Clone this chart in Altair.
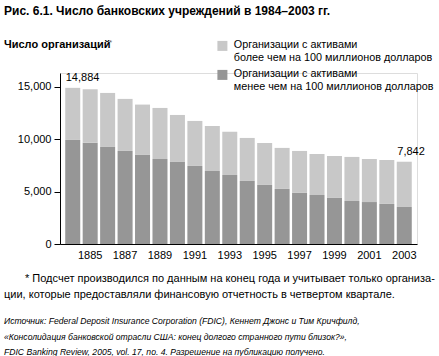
import altair as alt
import pandas as pd

# ---- data ----
years = list(range(1984, 2004))
totals = [14884, 14750, 14400, 13830, 13290, 12970, 12300, 11730, 11250, 10700,
          10110, 9630, 9160, 8870, 8580, 8390, 8300, 8100, 8010, 7842]
small = [9920, 9660, 9250, 8870, 8490, 8100, 7820, 7440, 6960, 6580,
         6010, 5630, 5250, 4870, 4670, 4390, 4100, 4000, 3820, 3530]
tick_years = [1985, 1987, 1989, 1991, 1993, 1995, 1997, 1999, 2001, 2003]
tick_labels = ["1885", "1887", "1889", "1991", "1993", "1995", "1997", "1999", "2001", "2003"]
cat_big = "Организации с активами\nболее чем на 100 миллионов долларов"
cat_small = "Организации с активами\nменее чем на 100 миллионов долларов"
labelled_years = [1984, 2003]

title_text = "Рис. 6.1. Число банковских учреждений в 1984–2003 гг."
ytitle_text = "Число организаций"
note_lines = ["* Подсчет производился по данным на конец года и учитывает только организа-",
              "ции, которые предоставляли финансовую отчетность в четвертом квартале."]
source_lines = ["Источник: Federal Deposit Insurance Corporation (FDIC), Кеннет Джонс и Тим Кричфилд,",
                "«Консолидация банковской отрасли США: конец долгого странного пути близок?»,",
                "FDIC Banking Review, 2005, vol. 17, no. 4. Разрешение на публикацию получено."]

FONT = "Liberation Sans"

rows = []
for y, t, s in zip(years, totals, small):
    rows.append({"year": y, "cat": cat_small, "value": s, "ord": 0})
    rows.append({"year": y, "cat": cat_big, "value": t - s, "ord": 1})
df = pd.DataFrame(rows)
tot_df = pd.DataFrame({"year": years, "total": totals})

label_expr = "[" + ",".join("'%s'" % l for l in tick_labels) + "][(datum.value - %d) / 2]" % tick_years[0]

xenc = alt.X("year:O",
             scale=alt.Scale(paddingInner=0.14, paddingOuter=0.3),
             axis=alt.Axis(values=tick_years, labelExpr=label_expr, ticks=False, labelAngle=0,
                           title=None, domainColor="black", labelPadding=5,
                           labelFontSize=11, labelColor="black", labelFont=FONT))

bars = alt.Chart(df).mark_bar().encode(
    x=xenc,
    y=alt.Y("value:Q", stack="zero",
            scale=alt.Scale(domain=[0, 16300], nice=False),
            axis=alt.Axis(values=[0, 5000, 10000, 15000], format=",.0f", grid=False,
                          tickSize=6, tickColor="black", domainColor="black",
                          title=None, labelFontSize=11, labelColor="black",
                          labelFont=FONT, labelPadding=3)),
    color=alt.Color("cat:N",
                    scale=alt.Scale(domain=[cat_big, cat_small], range=["#c8c8c8", "#969696"]),
                    legend=alt.Legend(title=None, orient="none", legendX=157, legendY=-39,
                                      symbolType="M-1,0.3H1V2.3H-1Z", symbolSize=100,
                                      symbolStrokeWidth=0, symbolOpacity=1,
                                      labelExpr="split(datum.label, '\\n')",
                                      labelBaseline="top", labelFontSize=10.8,
                                      labelFont=FONT, labelColor="black",
                                      labelLimit=300, rowPadding=0, labelOffset=6)),
    order=alt.Order("ord:Q"),
)

vals = alt.Chart(tot_df).transform_filter(
    alt.FieldOneOfPredicate(field="year", oneOf=labelled_years)
).mark_text(align="left", baseline="bottom", dx=-7, dy=-5, fontSize=11, font=FONT, color="black").encode(
    x=alt.X("year:O"),
    y=alt.Y("total:Q"),
    text=alt.Text("total:Q", format=","),
)

one = alt.InlineData(values=[{"k": 1}])

def txt(s, x, y, size=11, weight="normal", style="normal", color="black"):
    return alt.Chart(one).mark_text(text=s, align="left", baseline="middle", fontSize=size,
                                    fontWeight=weight, fontStyle=style, font=FONT,
                                    color=color).encode(x=alt.value(x), y=alt.value(y))

anns = [
    txt(title_text, -56, -62, size=12, weight="bold"),
    txt(ytitle_text, -56, -28, size=11, weight="bold"),
    txt("*", 49, -30, size=8, color="#666666"),
    txt(note_lines[0], -35, 206, size=11),
    txt(note_lines[1], -56, 222, size=11),
    txt(source_lines[0], -56, 248, size=8.6, style="italic"),
    txt(source_lines[1], -56, 264, size=8.6, style="italic"),
    txt(source_lines[2], -56, 279, size=8.6, style="italic"),
]

chart = alt.layer(bars, vals, *anns).properties(
    width=357, height=171,
    autosize=alt.AutoSizeParams(type="none"),
    padding={"left": 60, "top": 73, "right": 22, "bottom": 112},
).configure_view(stroke=None).configure(background="white")

chart.save("out.html", embed_options={"renderer": "svg", "actions": False})
